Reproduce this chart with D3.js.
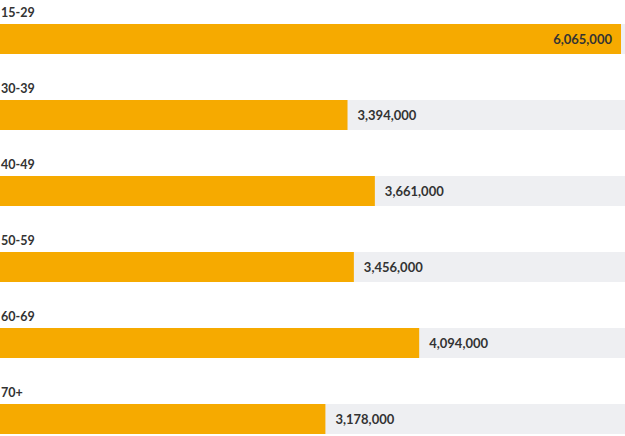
<!DOCTYPE html>
<html>
<head>
<meta charset="utf-8">
<script src="https://cdn.jsdelivr.net/npm/d3@7"></script>
<style>
  body { margin: 0; background: #fff; }
  text { font-family: Lato, sans-serif; }
</style>
</head>
<body>
<div id="chart"></div>
<script>
const ageGroups = ["15-29", "30-39", "40-49", "50-59", "60-69", "70+"];
const population = [6065000, 3394000, 3661000, 3456000, 4094000, 3178000];

var width = 625;
var height = 436;
var rowStep = 76;
var barH = 30;
var barTop = 24;

var svg = d3.select("#chart").append("svg")
    .attr("width", width)
    .attr("height", height);

const x = d3.scaleLinear()
    .domain([0, d3.max(population)])
    .range([0, 621]);

const y = d3.scaleBand()
    .domain(ageGroups)
    .range([0, rowStep * ageGroups.length])
    .paddingInner(0);

const fmt = d3.format(",");

const row = svg.selectAll("g.row")
    .data(ageGroups.map((g, i) => ({ group: g, value: population[i] })))
    .enter().append("g")
    .attr("class", "row")
    .attr("transform", d => `translate(0,${y(d.group)})`);

// grey track
row.append("rect")
    .attr("x", 0)
    .attr("y", barTop)
    .attr("width", width)
    .attr("height", barH)
    .attr("fill", "#eeeff2");

row.append("rect")
    .attr("x", 0)
    .attr("y", barTop)
    .attr("width", d => x(d.value))
    .attr("height", barH)
    .attr("fill", "#f6aa00");

row.append("text")
    .attr("x", 1)
    .attr("y", 17)
    .attr("font-size", 12.5)
    .attr("font-weight", "bold")
    .attr("fill", "#333")
    .text(d => d.group);

row.append("text")
    .attr("x", d => x(d.value) > 560 ? x(d.value) - 9 : x(d.value) + 10)
    .attr("y", barTop + barH / 2)
    .attr("dy", "0.35em")
    .attr("text-anchor", d => x(d.value) > 560 ? "end" : "start")
    .attr("font-size", 13)
    .attr("font-weight", "bold")
    .attr("fill", "#333")
    .text(d => fmt(d.value));
</script>
</body>
</html>
